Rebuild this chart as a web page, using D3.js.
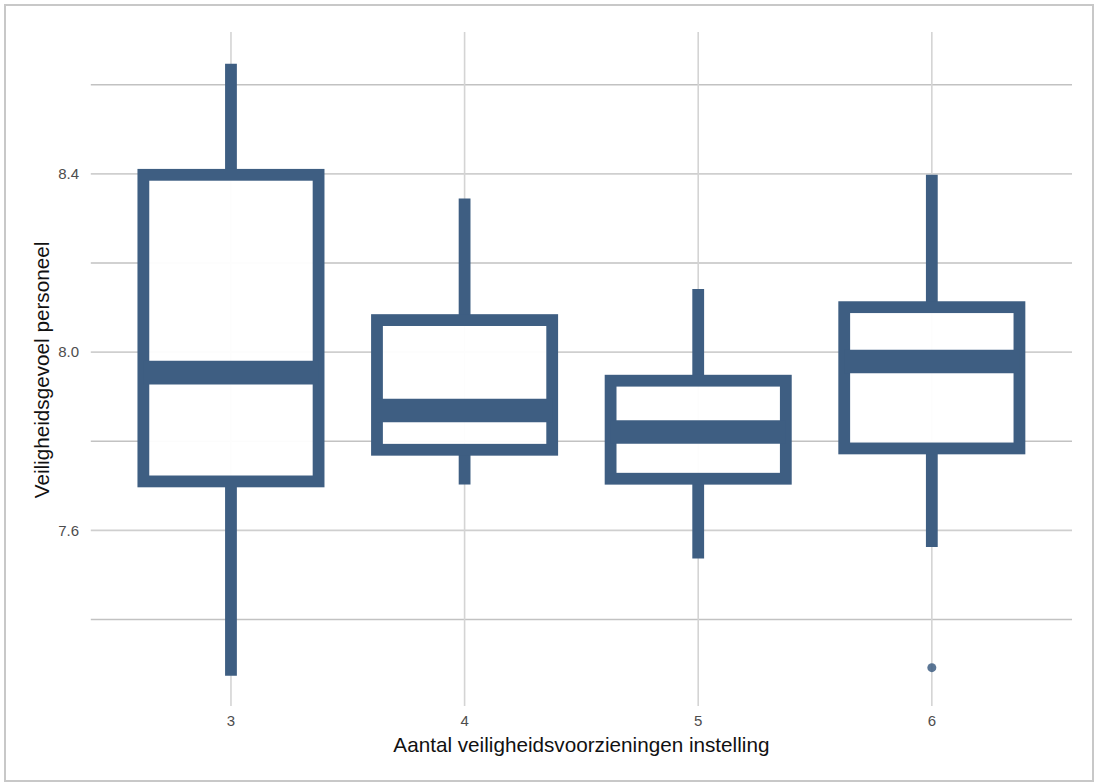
<!DOCTYPE html>
<html>
<head>
<meta charset="utf-8">
<script src="https://cdn.jsdelivr.net/npm/d3@7"></script>
<style>
  body { margin: 0; background: #fff; }
  text { font-family: "Liberation Sans", Arial, sans-serif; }
</style>
</head>
<body>
<script>
// groups on the x axis
var groups = ["3", "4", "5", "6"];

// box statistics
var whiskerLow  = [7.274, 7.703, 7.537, 7.563];
var q1          = [7.710, 7.781, 7.716, 7.784];
var median      = [7.954, 7.869, 7.821, 7.979];
var q3          = [8.398, 8.072, 7.936, 8.101];
var whiskerHigh = [8.647, 8.345, 8.142, 8.398];
var outliers    = [[], [], [], [7.292]];

var majorTicks = [7.6, 8.0, 8.4];
var minorTicks = [7.4, 7.8, 8.2, 8.6];

var width = 1097,
	height = 784;

var panel = { left: 90.8, right: 1072, top: 34, bottom: 706 };
var col = "#3e5e82";
var lw = 11.8;

var svg = d3.select("body")
	.append("svg")
	.attr("width", width)
	.attr("height", height);

// outer frame
svg.append("rect")
	.attr("x", 5).attr("y", 5)
	.attr("width", 1088).attr("height", 776)
	.attr("fill", "none")
	.attr("stroke", "#c8c8c8")
	.attr("stroke-width", 2);

var x = d3.scalePoint()
	.domain(groups)
	.range([panel.left, panel.right])
	.padding(0.6);

var y = d3.scaleLinear()
	.domain([7.206, 8.714])
	.range([panel.bottom, panel.top]);

var boxW = x.step() * 0.75;

// grid
var grid = svg.append("g");
grid.selectAll(".minor").data(minorTicks).enter().append("line")
	.attr("x1", panel.left).attr("x2", panel.right)
	.attr("y1", y).attr("y2", y)
	.attr("stroke", "#c2c2c2").attr("stroke-width", 1.5);
grid.selectAll(".major").data(majorTicks).enter().append("line")
	.attr("x1", panel.left).attr("x2", panel.right)
	.attr("y1", y).attr("y2", y)
	.attr("stroke", "#cfcfcf").attr("stroke-width", 1.8);
grid.selectAll(".vx").data(groups).enter().append("line")
	.attr("x1", x).attr("x2", x)
	.attr("y1", panel.top - 2).attr("y2", panel.bottom)
	.attr("stroke", "#d4d4d4").attr("stroke-width", 1.6);

// axis labels
svg.append("g").selectAll("text").data(majorTicks).enter().append("text")
	.attr("x", 79)
	.attr("y", y)
	.attr("dy", "0.35em")
	.attr("text-anchor", "end")
	.attr("font-size", 15)
	.attr("fill", "#4d4d4d")
	.text(function(d) { return d.toFixed(1); });

svg.append("g").selectAll("text").data(groups).enter().append("text")
	.attr("x", x)
	.attr("y", 726)
	.attr("text-anchor", "middle")
	.attr("font-size", 15)
	.attr("fill", "#4d4d4d")
	.text(function(d) { return d; });

svg.append("text")
	.attr("x", (panel.left + panel.right) / 2)
	.attr("y", 752)
	.attr("text-anchor", "middle")
	.attr("font-size", 20.7)
	.attr("fill", "#111")
	.text("Aantal veiligheidsvoorzieningen instelling");

svg.append("text")
	.attr("transform", "translate(49," + ((panel.top + panel.bottom) / 2) + ") rotate(-90)")
	.attr("text-anchor", "middle")
	.attr("font-size", 20.7)
	.attr("fill", "#111")
	.text("Veiligheidsgevoel personeel");

// boxes
var data = groups.map(function(g, i) {
	return { g: g, lo: whiskerLow[i], q1: q1[i], med: median[i], q3: q3[i], hi: whiskerHigh[i], out: outliers[i] };
});

var box = svg.append("g").selectAll("g").data(data).enter().append("g");

box.append("line")
	.attr("x1", function(d) { return x(d.g); })
	.attr("x2", function(d) { return x(d.g); })
	.attr("y1", function(d) { return y(d.hi); })
	.attr("y2", function(d) { return y(d.q3); })
	.attr("stroke", col).attr("stroke-width", lw);

box.append("line")
	.attr("x1", function(d) { return x(d.g); })
	.attr("x2", function(d) { return x(d.g); })
	.attr("y1", function(d) { return y(d.q1); })
	.attr("y2", function(d) { return y(d.lo); })
	.attr("stroke", col).attr("stroke-width", lw);

box.append("rect")
	.attr("x", function(d) { return x(d.g) - boxW / 2; })
	.attr("width", boxW)
	.attr("y", function(d) { return y(d.q3); })
	.attr("height", function(d) { return y(d.q1) - y(d.q3); })
	.attr("fill", "#fff").attr("fill-opacity", 0.95)
	.attr("stroke", col).attr("stroke-width", lw)
	.attr("stroke-linejoin", "miter");

box.append("line")
	.attr("x1", function(d) { return x(d.g) - boxW / 2; })
	.attr("x2", function(d) { return x(d.g) + boxW / 2; })
	.attr("y1", function(d) { return y(d.med); })
	.attr("y2", function(d) { return y(d.med); })
	.attr("stroke", col).attr("stroke-width", lw * 2);

box.selectAll("circle").data(function(d) { return d.out.map(function(v) { return { g: d.g, v: v }; }); })
	.enter().append("circle")
	.attr("cx", function(d) { return x(d.g); })
	.attr("cy", function(d) { return y(d.v); })
	.attr("r", 4.5)
	.attr("fill", col).attr("fill-opacity", 0.85);
</script>
</body>
</html>
